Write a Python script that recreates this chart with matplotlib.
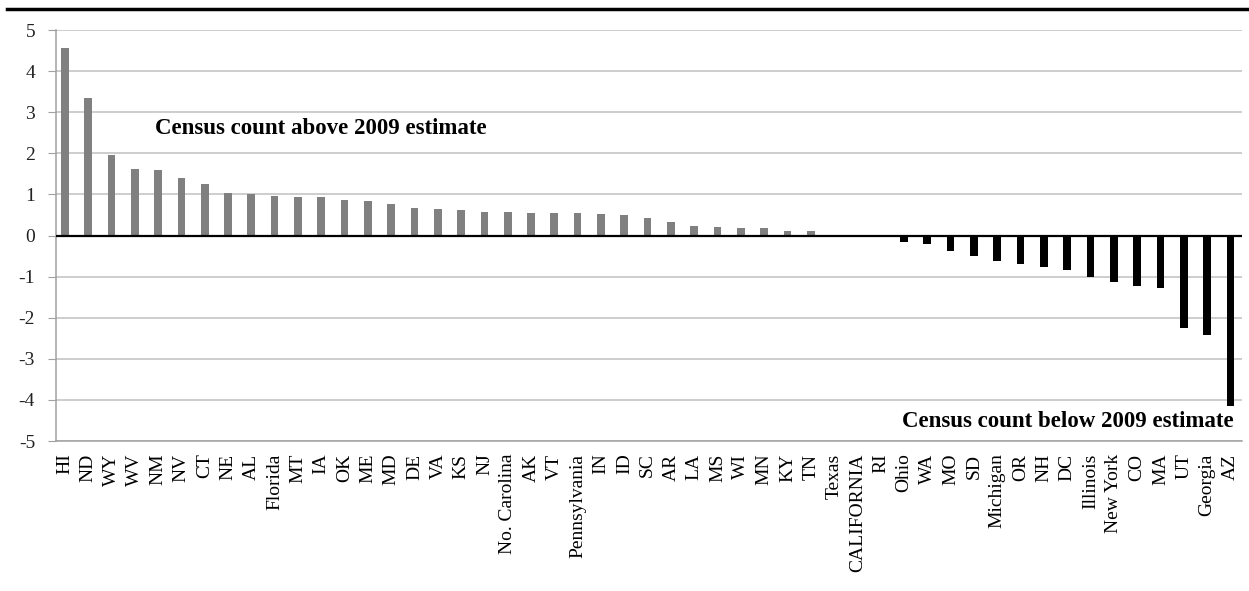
import matplotlib
matplotlib.use("Agg")
import matplotlib.pyplot as plt
from matplotlib.lines import Line2D

states = ["HI", "ND", "WY", "WV", "NM", "NV", "CT", "NE", "AL", "Florida",
          "MT", "IA", "OK", "ME", "MD", "DE", "VA", "KS", "NJ", "No. Carolina",
          "AK", "VT", "Pennsylvania", "IN", "ID", "SC", "AR", "LA", "MS", "WI",
          "MN", "KY", "TN", "Texas", "CALIFORNIA", "RI", "Ohio", "WA", "MO", "SD",
          "Michigan", "OR", "NH", "DC", "Illinois", "New York", "CO", "MA", "UT",
          "Georgia", "AZ"]
diff = [4.57, 3.34, 1.97, 1.62, 1.60, 1.40, 1.26, 1.04, 1.01, 0.96,
        0.93, 0.93, 0.86, 0.84, 0.76, 0.68, 0.65, 0.63, 0.57, 0.56,
        0.55, 0.54, 0.54, 0.52, 0.50, 0.42, 0.33, 0.22, 0.20, 0.19,
        0.19, 0.10, 0.10, 0.01, 0.0, -0.04, -0.15, -0.20, -0.37, -0.50,
        -0.63, -0.69, -0.77, -0.85, -1.01, -1.12, -1.24, -1.27, -2.25,
        -2.42, -4.15]

SERIF = ["Liberation Serif", "DejaVu Serif"]
plt.rcParams["font.family"] = SERIF

fig = plt.figure(figsize=(12.49, 5.91), dpi=100)
ax = fig.add_axes([0.0448, 0.2538, 0.9496, 0.6954])

x = range(len(states))
colors = ["#808080" if v >= 0 else "#000000" for v in diff]
ax.bar(x, diff, width=0.33, color=colors, zorder=3)

ax.set_xlim(-0.38, 50.5)
ax.set_ylim(-5, 5)
ax.set_yticks(range(-5, 6))
ax.set_yticklabels([str(v) for v in range(-5, 6)], fontsize=14)
ax.yaxis.grid(True, color="#c0c0c0", lw=1.1, zorder=0)
ax.axhline(0, color="black", lw=1.6, zorder=4)

ax.set_xticks(list(x))
ax.set_xticklabels(states, rotation=90, fontsize=14)
ax.tick_params(axis="x", length=0, pad=9)
ax.tick_params(axis="y", length=6, color="#a0a0a0", pad=9, labelcolor="#222222")

for s in ["top", "right"]:
    ax.spines[s].set_visible(False)
ax.spines["left"].set_color("#a0a0a0")
ax.spines["bottom"].set_color("#a0a0a0")
ax.spines["left"].set_linewidth(1.1)
ax.spines["bottom"].set_linewidth(1.1)

ax.text(3.85, 2.6, "Census count above 2009 estimate", fontsize=16.5,
        weight="bold", ha="left", va="center")
ax.text(50.15, -4.52, "Census count below 2009 estimate", fontsize=16.5,
        weight="bold", ha="right", va="center")

# heavy rule across the top of the figure
fig.add_artist(Line2D([0.006, 1.0], [0.985, 0.985], color="black", lw=2.5,
                      transform=fig.transFigure))

fig.savefig("out.png", dpi=100, facecolor="white")
